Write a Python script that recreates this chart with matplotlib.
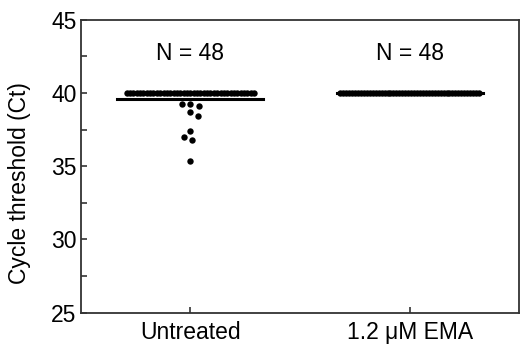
import matplotlib
matplotlib.use('Agg')
import matplotlib.pyplot as plt
import numpy as np

plt.rcParams['font.family'] = ['Liberation Sans', 'DejaVu Sans']

# Data
groups = ['Untreated', '1.2 \u03bcM EMA']
n_labels = ['N = 48', 'N = 48']
# Untreated: 39 wells at 40 (no Ct), 9 with a detected Ct
untreated_low = [39.26, 39.26, 39.09, 38.68, 38.43, 37.39, 37.0, 36.77, 35.39]
untreated_top = [40.0] * 39
ema_top = [40.0] * 48

fig = plt.figure(figsize=(5.23, 3.46), dpi=100)
ax = fig.add_axes([0.1543, 0.0962, 0.8386, 0.8468])
ax.set_xlim(-0.5, 1.5)
ax.set_ylim(25, 45)

# pixel scale, used only for laying out the swarm
px_x = 220.0   # px per category unit
px_y = 14.65   # px per Ct unit
diam = 8.5     # px, min spacing between scattered dots


def row_offsets(n, step):
    return (np.arange(n) - (n - 1) / 2.0) * step


def swarm(values):
    placed = []
    offs = []
    for v in values:
        cand = [0.0]
        for k in range(1, 80):
            cand += [-k * 0.25, k * 0.25]
        for c in cand:
            ok = True
            for (pv, po) in placed:
                dy = (v - pv) * px_y
                dx = c - po
                if dx * dx + dy * dy < diam * diam:
                    ok = False
                    break
            if ok:
                break
        placed.append((v, c))
        offs.append(c / px_x)
    return np.array(offs)


ms = 4.6
# Untreated
x0 = 0
ax.plot(x0 + row_offsets(len(untreated_top), 0.0153), untreated_top, 'o',
        color='black', ms=ms, mec='none', clip_on=False)
ax.plot(x0 + swarm(untreated_low), untreated_low, 'o', color='black', ms=ms,
        mec='none')
mean0 = np.mean(untreated_top + untreated_low)
ax.plot([x0 - 0.333, x0 + 0.333], [mean0, mean0], color='black', lw=2.2)

# EMA
x1 = 1
mean1 = np.mean(ema_top)
ax.plot([x1 - 0.333, x1 + 0.333], [mean1, mean1], color='black', lw=2.2)
ax.plot(x1 + row_offsets(len(ema_top), 0.01345), ema_top, 'o',
        color='black', ms=ms, mec='none')

for i, t in enumerate(n_labels):
    ax.text(i, 42.25, t, ha='center', va='baseline', fontsize=16.5)

ax.set_xticks([0, 1])
ax.set_xticklabels(groups)
ax.set_yticks([25, 30, 35, 40, 45])
ax.set_yticks([27.5, 32.5, 37.5, 42.5], minor=True)
ax.tick_params(axis='both', which='both', direction='in', color='#333333',
               width=1.2, labelsize=16.5)
ax.tick_params(axis='both', which='major', length=4)
ax.tick_params(axis='y', which='minor', length=4)
ax.tick_params(axis='x', pad=6)
ax.tick_params(axis='y', pad=3)
for s in ax.spines.values():
    s.set_color('#333333')
    s.set_linewidth(1.3)

fig.text(20 / 523, 1 - 183 / 346, 'Cycle threshold (Ct)', rotation=90,
         ha='center', va='center', fontsize=16.5)

fig.savefig('out.png', dpi=100)
